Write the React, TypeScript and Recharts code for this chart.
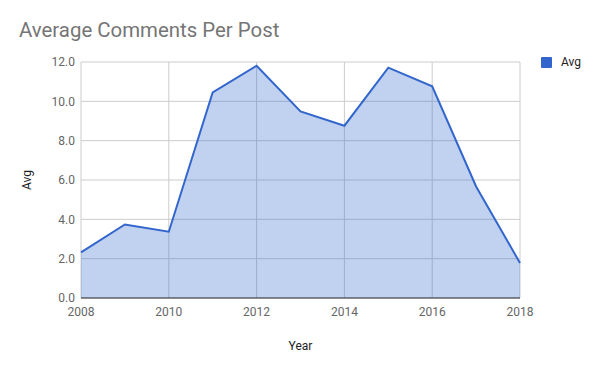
import { AreaChart, Area, XAxis, YAxis, CartesianGrid, Label } from "recharts";

const years = [2008, 2009, 2010, 2011, 2012, 2013, 2014, 2015, 2016, 2017, 2018];
const avgValues = [2.32, 3.74, 3.37, 10.45, 11.81, 9.49, 8.76, 11.71, 10.76, 5.67, 1.78];
const xTicks = [2008, 2010, 2012, 2014, 2016, 2018];
const yTicks = [0, 2, 4, 6, 8, 10, 12];

const data = years.map((year, i) => ({ year, avg: avgValues[i] }));

const font = "Roboto, Arial, sans-serif";

export default function App() {
  return (
    <div style={{ position: "relative", width: 600, height: 371, fontFamily: font }}>
      <style>{`body{margin:0}`}</style>
      <div
        style={{
          position: "absolute",
          left: 19,
          top: 20,
          fontSize: 20.4,
          lineHeight: "20px",
          color: "#757575",
          whiteSpace: "nowrap",
        }}
      >
        Average Comments Per Post
      </div>
      <div style={{ position: "absolute", left: 541, top: 57, display: "flex", alignItems: "center" }}>
        <div style={{ width: 11, height: 11, background: "#3366cc", borderRadius: 1 }} />
        <span style={{ marginLeft: 9, fontSize: 12, color: "#222", lineHeight: "11px" }}>Avg</span>
      </div>
      <AreaChart width={600} height={371} data={data} margin={{ top: 62, right: 80, left: 0, bottom: 0 }}>
        <CartesianGrid stroke="#cccccc" vertical={true} />
        <XAxis
          dataKey="year"
          type="number"
          domain={[2008, 2018]}
          ticks={xTicks}
          height={73}
          tickSize={0}
          tickMargin={9}
          axisLine={{ stroke: "#333333" }}
          tick={{ fill: "#666666", fontSize: 12, fontFamily: font }}
        >
          <Label value="Year" position="insideBottom" offset={21} fill="#222" fontSize={12} fontFamily={font} />
        </XAxis>
        <YAxis
          domain={[0, 12]}
          ticks={yTicks}
          width={81}
          tickSize={0}
          tickMargin={6}
          axisLine={false}
          tickFormatter={(v: number) => v.toFixed(1)}
          tick={{ fill: "#666666", fontSize: 12, fontFamily: font }}
        >
          <Label
            content={() => (
              <text
                x={31}
                y={180}
                transform="rotate(-90 31 180)"
                textAnchor="middle"
                fill="#222"
                fontSize={12}
                fontFamily={font}
              >
                Avg
              </text>
            )}
          />
        </YAxis>
        <Area
          type="linear"
          dataKey="avg"
          stroke="#3366cc"
          strokeWidth={2}
          fill="#3366cc"
          fillOpacity={0.3}
          isAnimationActive={false}
          dot={false}
          activeDot={false}
        />
      </AreaChart>
    </div>
  );
}
